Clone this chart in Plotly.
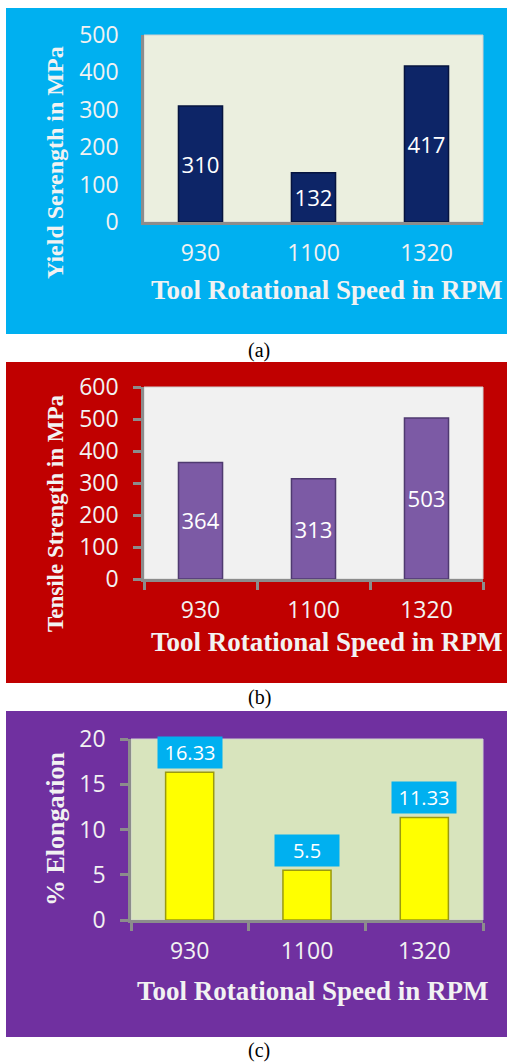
import plotly.graph_objects as go

W, H = 507, 1064

categories = ["930", "1100", "1320"]
yield_strength = [310, 132, 417]
tensile_strength = [364, 313, 503]
elongation = [16.33, 5.5, 11.33]
elong_labels = ["16.33", "5.5", "11.33"]

ytitle_a = "Yield Serength in MPa"
ytitle_b = "Tensile Strength in MPa"
ytitle_c = "% Elongation"
xtitle = "Tool Rotational Speed in RPM"


def px(x):
    return x / W


def py(y):
    return 1 - y / H


TICKFONT = dict(family="Open Sans", size=23, color="#F2F2F2")
SERIF = "Times New Roman, Liberation Serif, serif"

panels = [
    dict(bg=(8, 334), plot=(144, 483, 35, 222), bgc="#00B0F0", pbg="#EBEFDF",
         bar="#0D2567", barline="#06143F", yr=[0, 500], dt=100, ticks=False,
         y=yield_strength, ytitle=ytitle_a, yts=24, ytc=163, xtx=327, xty=290,
         cap="(a)", capy=350),
    dict(bg=(362, 683), plot=(144, 483, 387, 579), bgc="#C00000", pbg="#F1F1F1",
         bar="#7C5AA5", barline="#4F3A70", yr=[0, 600], dt=100, ticks=True,
         y=tensile_strength, ytitle=ytitle_b, yts=23, ytc=513, xtx=327, xty=642,
         cap="(b)", capy=697),
    dict(bg=(711, 1037), plot=(131, 483, 739, 920), bgc="#7030A0", pbg="#D8E4BD",
         bar="#FFFF00", barline="#9A9A10", yr=[0, 20], dt=5, ticks=True,
         y=elongation, ytitle=ytitle_c, yts=26, ytc=829, xtx=313, xty=991,
         cap="(c)", capy=1050),
]

fig = go.Figure()
shapes = []
annotations = []

for i, p in enumerate(panels):
    n = "" if i == 0 else str(i + 1)
    xa, ya = "x" + n, "y" + n
    x0, x1, y0, y1 = p["plot"]
    shapes.append(dict(type="rect", xref="paper", yref="paper", layer="below",
                       x0=px(6), x1=px(507), y0=py(p["bg"][1]), y1=py(p["bg"][0]),
                       fillcolor=p["bgc"], line=dict(width=0)))
    shapes.append(dict(type="rect", xref="paper", yref="paper", layer="below",
                       x0=px(x0), x1=px(x1), y0=py(y1), y1=py(y0),
                       fillcolor=p["pbg"], line=dict(width=1, color="#D0D0D0")))
    if i < 2:
        fig.add_trace(go.Bar(
            x=categories, y=p["y"], xaxis=xa, yaxis=ya, width=0.39,
            marker=dict(color=p["bar"], line=dict(color=p["barline"], width=1.5)),
            text=[str(v) for v in p["y"]], textposition="inside",
            insidetextanchor="middle", textangle=0,
            textfont=dict(family="Open Sans", size=24, color="#FFFFFF"),
            showlegend=False, hoverinfo="skip"))
    else:
        fig.add_trace(go.Bar(
            x=categories, y=p["y"], xaxis=xa, yaxis=ya, width=0.41,
            marker=dict(color=p["bar"], line=dict(color=p["barline"], width=1.5)),
            showlegend=False, hoverinfo="skip"))
        for j, (v, t) in enumerate(zip(p["y"], elong_labels)):
            annotations.append(dict(
                x=j, y=v, xref=xa, yref=ya, text=t, showarrow=False,
                xanchor="center", yanchor="bottom", yshift=3, bgcolor="#00B0F0",
                width=62, height=29, borderpad=1,
                font=dict(family="Open Sans", size=20, color="#FFFFFF")))

    tickc = "#8C8C8C" if p["ticks"] else "rgba(0,0,0,0)"
    fig.layout["xaxis" + n] = dict(
        domain=[px(x0), px(x1)], anchor=ya, type="category", automargin=False,
        range=[-0.5, len(categories) - 0.5],
        showline=True, linecolor="#8C8C8C", linewidth=2.5,
        ticks="outside", ticklen=8, tickwidth=2.5, tickcolor=tickc,
        tickson="boundaries", showgrid=False, tickfont=TICKFONT, tickangle=0,
        ticklabelstandoff=9, fixedrange=True)
    fig.layout["yaxis" + n] = dict(
        domain=[py(y1), py(y0)], anchor=xa, range=p["yr"], dtick=p["dt"], automargin=False,
        showline=True, linecolor="#8C8C8C", linewidth=2.5,
        ticks="outside", ticklen=8, tickwidth=2.5, tickcolor=tickc,
        showgrid=False, zeroline=False, tickfont=TICKFONT,
        ticklabelstandoff=10, fixedrange=True)

    annotations.append(dict(
        x=px(55), y=py(p["ytc"]), xref="paper", yref="paper", text="<b>%s</b>" % p["ytitle"],
        textangle=-90, showarrow=False, xanchor="center", yanchor="middle",
        font=dict(family=SERIF, size=p["yts"], color="#F2F2F2")))
    annotations.append(dict(
        x=px(p["xtx"]), y=py(p["xty"]), xref="paper", yref="paper", text="<b>%s</b>" % xtitle,
        showarrow=False, xanchor="center", yanchor="middle",
        font=dict(family=SERIF, size=27, color="#F2F2F2")))
    annotations.append(dict(
        x=px(259), y=py(p["capy"]), xref="paper", yref="paper", text=p["cap"],
        showarrow=False, xanchor="center", yanchor="middle",
        font=dict(family=SERIF, size=20, color="#000000")))

fig.update_layout(
    width=W, height=H, margin=dict(l=0, r=0, t=0, b=0, autoexpand=False),
    paper_bgcolor="#FFFFFF", plot_bgcolor="rgba(0,0,0,0)",
    bargap=0.6, shapes=shapes, annotations=annotations, showlegend=False)

fig.write_html("out.html", config={"displayModeBar": False},
               post_script="document.body.style.margin='0';document.body.style.overflow='hidden';")
